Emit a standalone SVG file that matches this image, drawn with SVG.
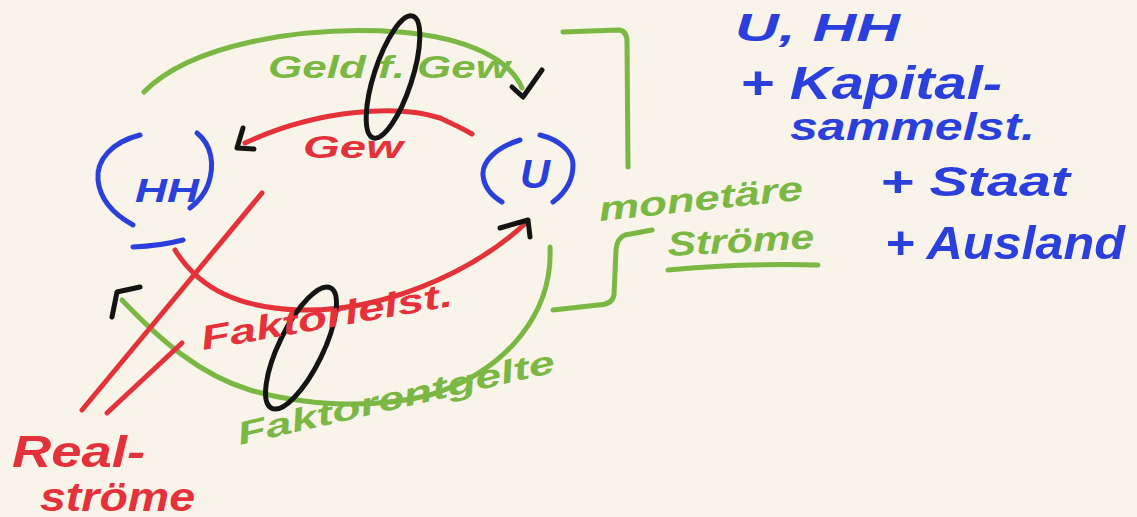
<svg xmlns="http://www.w3.org/2000/svg" width="1137" height="517" viewBox="0 0 1137 517">
<style>
.s{fill:none;stroke-width:5;stroke-linecap:round;stroke-linejoin:round}
.g{stroke:#7ab743}.r{stroke:#e5323a}.b{stroke:#2b3fdc}.k{stroke:#141414}
.t{font-family:"Liberation Sans",Arial,sans-serif;font-style:italic;font-weight:bold}
.tg{fill:#7ab743}.tr{fill:#e5323a}.tb{fill:#2b3fdc}
</style>
<rect width="1137" height="517" fill="#f8f4e9"/>
<g id="HH">
<path class="s b" d="M140,135 C112,142 96,160 98,180 C100,200 115,215 133,225"/>
<path class="s b" d="M197,133 C212,145 215,165 208,185 C204,195 198,202 190,208"/>
<text class="t tb" x="135" y="202" font-size="34" textLength="64" lengthAdjust="spacingAndGlyphs">HH</text>
<path class="s b" d="M133,247 Q160,246 183,240"/>
</g>
<g id="U">
<path class="s b" d="M520,140 C495,148 482,162 483,175 C484,188 492,196 502,202"/>
<path class="s b" d="M540,135 C560,140 573,152 573,165 C573,180 565,193 553,202"/>
<text class="t tb" x="520" y="188" font-size="40" textLength="30" lengthAdjust="spacingAndGlyphs">U</text>
</g>
<g id="connectors">
<path class="s g" d="M144,92 C190,45 300,25 400,32 C470,38 510,60 522,88"/>
<path class="s k" d="M512,87 L523,97 L542,70"/>
<path class="s r" d="M472,134 C462,128 455,125 440,118 C400,105 320,108 245,143"/>
<path class="s k" d="M243,128 L237,148 L254,149"/>
<path class="s r" d="M175,250 C200,290 240,308 300,310 C380,312 470,275 527,222"/>
<path class="s k" d="M500,228 L528,220 L530,237"/>
<path class="s g" d="M550,247 C553,310 510,370 430,395 C370,410 300,405 250,390 C200,375 160,340 122,300"/>
<path class="s k" d="M112,317 L117,292 L140,287"/>
<path class="s r" d="M262,193 L82,410"/>
<path class="s r" d="M182,343 L107,413"/>
<ellipse class="s k" cx="393" cy="77" rx="64" ry="19" transform="rotate(-72 393 77)"/>
<ellipse class="s k" cx="301" cy="348" rx="67" ry="22" transform="rotate(-64 301 348)"/>
<path class="s g" d="M563,32 L618,30 Q627,30 627,42 L628,167"/>
<path class="s g" d="M652,230 L625,235 Q617,238 616,250 L614,295 Q612,305 598,305 L553,310"/>
<path class="s g" d="M668,270 Q740,263 818,265"/>
</g>
<g id="labels">
<text class="t tg" x="268" y="78" font-size="32" textLength="242" lengthAdjust="spacingAndGlyphs">Geld f. Gew</text>
<text class="t tr" x="303" y="158" font-size="32" textLength="100" lengthAdjust="spacingAndGlyphs">Gew</text>
<text class="t tr" x="203" y="350" font-size="34" textLength="255" lengthAdjust="spacingAndGlyphs" transform="rotate(-10 203 350)">Faktorleist.</text>
<text class="t tg" x="240" y="445" font-size="32" textLength="325" lengthAdjust="spacingAndGlyphs" transform="rotate(-13 240 445)">Faktorentgelte</text>
<text class="t tr" x="12" y="467" font-size="44" textLength="133" lengthAdjust="spacingAndGlyphs">Real-</text>
<text class="t tr" x="40" y="511" font-size="40" textLength="155" lengthAdjust="spacingAndGlyphs">ströme</text>
<text class="t tg" x="600" y="221" font-size="34" textLength="205" lengthAdjust="spacingAndGlyphs" transform="rotate(-6 600 221)">monetäre</text>
<text class="t tg" x="668" y="256" font-size="34" textLength="147" lengthAdjust="spacingAndGlyphs" transform="rotate(-3 668 256)">Ströme</text>
<text class="t tb" x="735" y="41" font-size="38" textLength="165" lengthAdjust="spacingAndGlyphs">U, HH</text>
<text class="t tb" x="740" y="99" font-size="46" textLength="262" lengthAdjust="spacingAndGlyphs">+ Kapital-</text>
<text class="t tb" x="790" y="140" font-size="38" textLength="245" lengthAdjust="spacingAndGlyphs">sammelst.</text>
<text class="t tb" x="880" y="196" font-size="42" textLength="190" lengthAdjust="spacingAndGlyphs">+ Staat</text>
<text class="t tb" x="885" y="259" font-size="46" textLength="240" lengthAdjust="spacingAndGlyphs">+ Ausland</text>
</g>
</svg>
